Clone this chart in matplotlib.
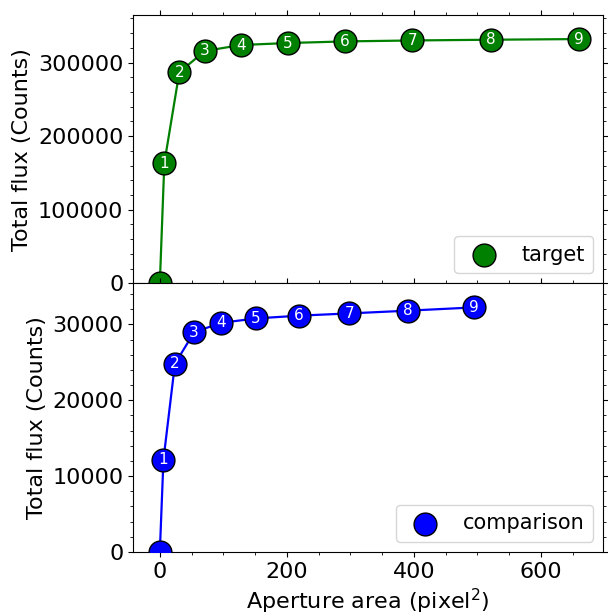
import numpy as np
import matplotlib
matplotlib.use('Agg')
import matplotlib.pyplot as plt

plt.rcParams['font.size'] = 16
plt.rcParams['legend.fontsize'] = 15

# aperture areas (pixel^2) and total flux for each aperture
area_target = [0, 7.1, 30.7, 70.9, 127.7, 201.1, 291.0, 397.6, 520.8, 660.5]
flux_target = [0, 163500, 286900, 315800, 323900, 326600, 328800, 330100, 331100, 332000]

area_comp = [0, 5.7, 23.8, 54.1, 96.8, 151.7, 219.0, 298.6, 390.6, 494.8]
flux_comp = [0, 12150, 24800, 28970, 30200, 30780, 31140, 31440, 31800, 32230]

labels = [str(i) for i in range(1, 10)]

fig, (ax1, ax2) = plt.subplots(2, 1, sharex=True, figsize=(6.08, 6.16), dpi=100)
fig.subplots_adjust(left=0.219, right=0.992, top=0.976, bottom=0.104, hspace=0)

def draw(ax, x, y, color, name):
    ax.plot(x, y, '-', color=color, lw=1.6, zorder=2)
    ax.scatter(x, y, s=270, c=color, edgecolors='black', linewidths=1.0,
               label=name, zorder=3)
    for xi, yi, lab in zip(x[1:], y[1:], labels):
        ax.text(xi, yi, lab, color='white', fontsize=11, ha='center',
                va='center', zorder=4)
    ax.set_ylabel('Total flux (Counts)')
    ax.legend(loc='lower right')
    ax.minorticks_on()
    ax.tick_params(which='both', top=True, right=True)

draw(ax1, area_target, flux_target, 'green', 'target')
draw(ax2, area_comp, flux_comp, 'blue', 'comparison')

ax1.set_ylim(0, 365000)
ax2.set_ylim(0, 35400)
ax2.set_xlim(-42, 698)
ax2.set_xticks([0, 200, 400, 600])
ax2.set_xlabel('Aperture area (pixel$^2$)')

plt.savefig('out.png', dpi=100)
